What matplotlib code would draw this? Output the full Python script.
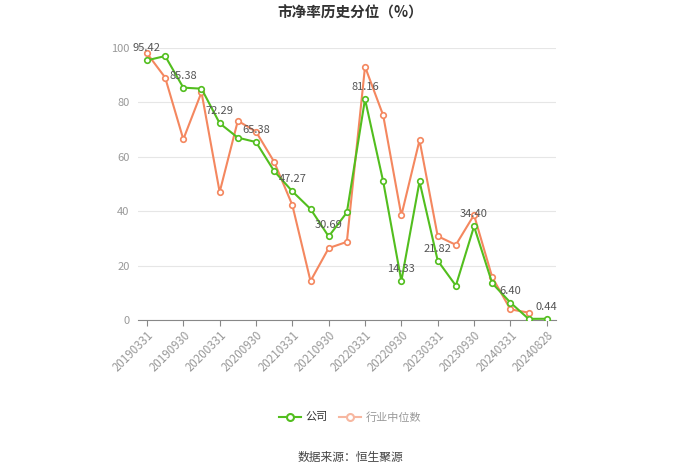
import matplotlib
matplotlib.use("Agg")
from matplotlib import pyplot as plt
from matplotlib.lines import Line2D

plt.rcParams['font.family'] = ['Noto Sans CJK SC', 'DejaVu Sans']

# report dates (quarterly + latest)
dates = ['20190331', '20190630', '20190930', '20191231',
         '20200331', '20200630', '20200930', '20201231',
         '20210331', '20210630', '20210930', '20211231',
         '20220331', '20220630', '20220930', '20221231',
         '20230331', '20230630', '20230930', '20231231',
         '20240331', '20240630', '20240828']

# company PB percentile
company = [95.42, 97.0, 85.38, 85.0, 72.29, 67.0, 65.38, 54.7,
           47.27, 40.8, 30.69, 39.5, 81.16, 50.9, 14.33, 50.9,
           21.82, 12.6, 34.40, 13.5, 6.40, 0.4, 0.44]

# industry median PB percentile (no value for the last date)
industry = [98.0, 89.1, 66.4, 83.7, 47.0, 73.2, 69.2, 58.1,
            42.2, 14.3, 26.4, 28.7, 93.1, 75.2, 38.4, 66.1,
            30.8, 27.6, 38.6, 15.7, 3.9, 2.7]

green = '#52BE1E'
orange = '#F4875F'

fig = plt.figure(figsize=(7, 4.74), dpi=100)
ax = fig.add_axes([0.197, 0.325, 0.597, 0.574])

x = list(range(len(dates)))
ax.plot(x[:len(industry)], industry, color=orange, lw=1.5, marker='o', ms=4,
        mfc='white', mec=orange, mew=1.2, zorder=3)
ax.plot(x, company, color=green, lw=1.5, marker='o', ms=4,
        mfc='white', mec=green, mew=1.2, zorder=4)

for i in range(0, len(company), 2):
    ax.annotate(f'{company[i]:.2f}', (i, company[i]), xytext=(0, 5),
                textcoords='offset points', ha='center', va='bottom',
                fontsize=8, color='#555555', zorder=5)

ax.set_xlim(-0.5, len(dates) - 0.5)
ax.set_ylim(0, 100)
ax.set_yticks([0, 20, 40, 60, 80, 100])
ax.set_xticks(x[::2])
ax.set_xticklabels(dates[::2], rotation=45, ha='right', rotation_mode='anchor',
                   fontsize=8.3, color='#999999')
ax.tick_params(axis='y', length=0, labelsize=8, labelcolor='#999999', pad=6)
ax.tick_params(axis='x', length=4, color='#888888', pad=2)
ax.grid(axis='y', color='#E6E6E6', lw=0.8)
ax.set_axisbelow(True)
for s in ['top', 'right', 'left']:
    ax.spines[s].set_visible(False)
ax.spines['bottom'].set_color('#888888')

fig.text(0.5, 0.973, '市净率历史分位（%）', ha='center', va='center',
         fontsize=10.5, fontweight='bold', color='#333333')

handles = [Line2D([], [], color=green, lw=1.5, marker='o', ms=5, mfc='white', mec=green, mew=1.5),
           Line2D([], [], color='#F7B7A0', lw=1.5, marker='o', ms=5, mfc='white', mec='#F7B7A0', mew=1.5)]
leg = fig.legend(handles, ['公司', '行业中位数'], loc='center', bbox_to_anchor=(0.5, 0.12),
                 ncol=2, frameon=False, fontsize=8, handlelength=2.0, columnspacing=1.0,
                 handletextpad=0.4)
leg.get_texts()[0].set_color('#333333')
leg.get_texts()[1].set_color('#999999')

fig.text(0.5, 0.035, '数据来源：恒生聚源', ha='center', va='center',
         fontsize=8.5, color='#444444')

fig.savefig('out.png', dpi=100, facecolor='white')
